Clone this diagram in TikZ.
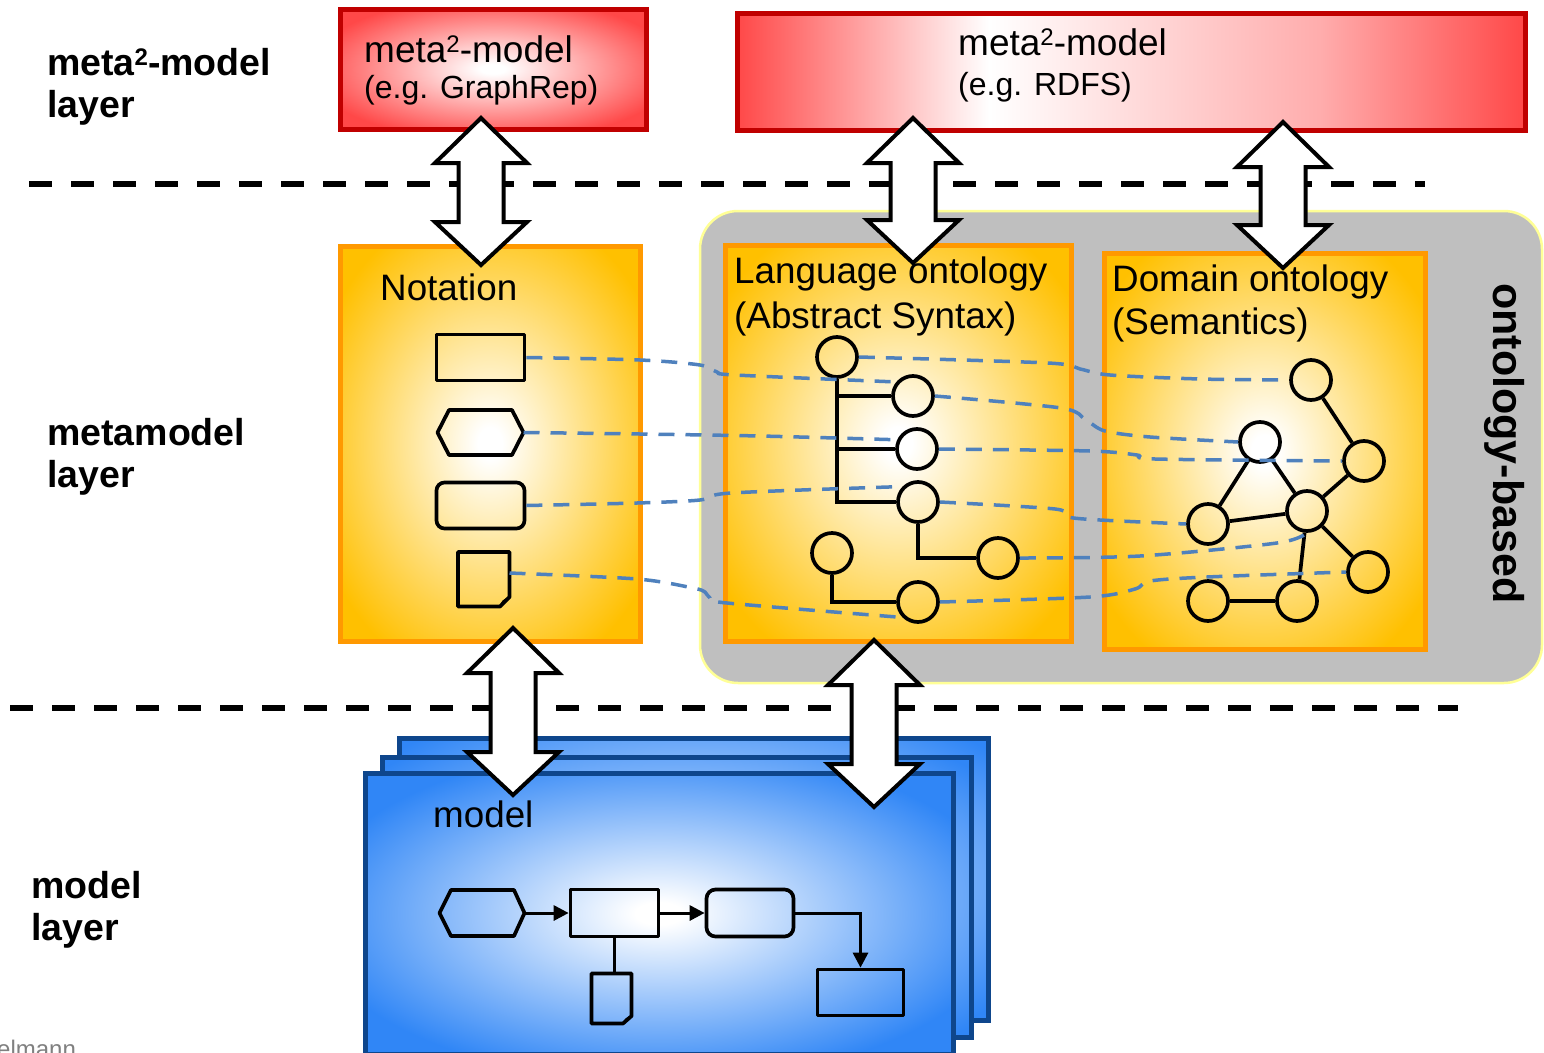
\documentclass[tikz,border=0pt]{standalone}
\usepackage{fontspec}
\setmainfont{Liberation Sans}
\usetikzlibrary{arrows.meta}
\definecolor{redEdge}{RGB}{255,72,72}
\colorlet{redMid}{redEdge!45}
\definecolor{redLine}{RGB}{192,0,0}
\definecolor{orEdge}{RGB}{255,192,0}
\definecolor{orLine}{RGB}{255,153,0}
\definecolor{blEdge}{RGB}{48,134,246}
\definecolor{blLine}{RGB}{14,70,140}
\definecolor{grFill}{RGB}{191,191,191}
\definecolor{grLine}{RGB}{255,255,150}
\definecolor{dashBlue}{RGB}{79,129,189}
\pgfdeclareradialshading{orglow}{\pgfpoint{0bp}{0bp}}{color(0bp)=(white); color(2bp)=(white); color(31bp)=(orEdge); color(50bp)=(orEdge)}
\pgfdeclareradialshading{redglow}{\pgfpoint{0bp}{0bp}}{color(0bp)=(white); color(2bp)=(white); color(30bp)=(redEdge); color(50bp)=(redEdge)}
\pgfdeclareradialshading{blglow}{\pgfpoint{0bp}{0bp}}{color(0bp)=(white); color(2bp)=(white); color(30bp)=(blEdge); color(50bp)=(blEdge)}
\pgfdeclareradialshading{blback}{\pgfpoint{0bp}{0bp}}{color(0bp)=(white); color(34bp)=(blEdge); color(50bp)=(blEdge)}
\pgfdeclarehorizontalshading{redband}{100bp}{color(0bp)=(redEdge); color(25bp)=(redEdge); color(41bp)=(white); color(62bp)=(redMid); color(75bp)=(redEdge); color(100bp)=(redEdge)}
\newcommand\fsz[1]{\fontsize{#1}{#1}\selectfont}
\newcommand\dblarrow[3]{%
  \draw[bigarrow] (#1,#2) -- ({#1+46},{#2+45}) -- ({#1+22.5},{#2+45}) -- ({#1+22.5},{#3-43}) -- ({#1+46},{#3-43}) -- (#1,#3) -- ({#1-46},{#3-43}) -- ({#1-22.5},{#3-43}) -- ({#1-22.5},{#2+45}) -- ({#1-46},{#2+45}) -- cycle;}
\begin{document}
\begin{tikzpicture}[x=1pt,y=-1pt,
  lay/.style={anchor=base west, inner sep=0pt, font=\bfseries\fsz{37.5}},
  ttl/.style={anchor=base west, inner sep=0pt, font=\fsz{36.8}},
  subttl/.style={anchor=base west, inner sep=0pt, font=\fsz{32}},
  layerline/.style={line width=6pt, dash pattern=on 23pt off 19pt},
  redbox/.style={draw=redLine, line width=5pt, inner sep=0pt, shade, shading=redglow},
  orbox/.style={draw=orLine, line width=5pt, inner sep=0pt, shade, shading=orglow},
  blbox/.style={draw=blLine, line width=5pt, inner sep=0pt, shade, shading=blglow},
  blbackbox/.style={draw=blLine, line width=5pt, inner sep=0pt, shade, shading=blback},
  shp/.style={draw=black, line width=3.7pt, line join=round},
  rnode/.style={shp, rectangle, inner sep=0pt},
  circ/.style={shp, circle, minimum size=40pt, inner sep=0pt},
  treeline/.style={line width=3.7pt},
  bdash/.style={draw=dashBlue, line width=3.5pt, dash pattern=on 16pt off 11pt},
  bigarrow/.style={draw=black, fill=white, line width=4pt, line join=miter},
  flow/.style={line width=3pt},
  flowtip/.style={-{Triangle[length=15pt,width=15pt]}}
]
\useasboundingbox (0,0) rectangle (1544,1052);
\fill[white] (0,0) rectangle (1544,1052);

% layer separators
\draw[layerline] (29,184) -- (1425,184);
\draw[layerline] (10,708) -- (1458,708);

% meta^2-model boxes
\node[redbox, minimum width=306pt, minimum height=120pt] (m2a) at (493,69) {};
\node[draw=redLine, line width=5pt, inner sep=0pt, shade, shading=redband, minimum width=788pt, minimum height=117pt] (m2b) at (1131,71.5) {};

% ontology group
\node[draw=grLine, line width=2.5pt, fill=grFill, rounded corners=38pt, minimum width=842pt, minimum height=472pt, inner sep=0pt] (ontgroup) at (1121,447) {};

% metamodel boxes
\node[orbox, minimum width=300pt, minimum height=395pt] (notation) at (490,443.5) {};
\node[orbox, minimum width=346pt, minimum height=396pt] (langont) at (898,443) {};
\node[orbox, minimum width=321pt, minimum height=396pt] (domont) at (1264.5,451) {};

% model boxes
\node[blbackbox, minimum width=589pt, minimum height=282pt] (mback) at (693.5,879) {};
\node[blbackbox, minimum width=589pt, minimum height=280pt] (mmid) at (676.5,897) {};
\node[blbox, minimum width=588pt, minimum height=281pt] (mfront) at (659,913.5) {};

% notation shapes
\node[rnode, minimum width=88pt, minimum height=46pt] (nrect) at (480.5,357.5) {};
\draw[shp] (437.5,432.5) -- (449,410) -- (512,410) -- (523.5,432.5) -- (512,455) -- (449,455) -- cycle;
\coordinate (nhexE) at (523.5,432.5);
\node[rnode, rounded corners=8pt, minimum width=88pt, minimum height=46pt] (nround) at (480.5,505.5) {};
\draw[shp] (458,552) -- (509.5,552) -- (509.5,597) -- (500,606.5) -- (458,606.5) -- cycle;
\fill (509.5,597) -- (500,606.5) .. controls (501,601) and (503,599) .. (509.5,597) -- cycle;
\coordinate (nnoteE) at (509.5,573);

% language ontology tree
\node[circ] (c1) at (837,357) {};
\node[circ] (c2) at (913,396) {};
\node[circ] (c3) at (917,449) {};
\node[circ] (c4) at (918,502) {};
\node[circ] (c5) at (998,558) {};
\node[circ] (c6) at (832,553) {};
\node[circ] (c7) at (918,602) {};
\draw[treeline] (c1.south) -- (c1.south |- c4) -- (c4.west);
\draw[treeline] (c1.south |- c2) -- (c2.west);
\draw[treeline] (c1.south |- c3) -- (c3.west);
\draw[treeline] (c4.south) -- (c4.south |- c5) -- (c5.west);
\draw[treeline] (c6.south) -- (c6.south |- c7) -- (c7.west);

% domain ontology graph
\node[circ] (d1) at (1311,380) {};
\node[circ] (d2) at (1260,442) {};
\node[circ] (d3) at (1364,461) {};
\node[circ] (d4) at (1208,524) {};
\node[circ] (d5) at (1307,511) {};
\node[circ] (d6) at (1368,572) {};
\node[circ] (d7) at (1208,601) {};
\node[circ] (d8) at (1297,601) {};
\draw[treeline] (d1) -- (d3);
\draw[treeline] (d2) -- (d4);
\draw[treeline] (d2) -- (d5);
\draw[treeline] (d4) -- (d5);
\draw[treeline] (d5) -- (d3);
\draw[treeline] (d5) -- (d6);
\draw[treeline] (d5) -- (d8);
\draw[treeline] (d7) -- (d8);

% model diagram
\draw[shp] (439.5,913) -- (451,890) -- (514,890) -- (524.5,913) -- (514,936) -- (451,936) -- cycle;
\coordinate (mhexE) at (524.5,913);
\node[rnode, minimum width=88pt, minimum height=47pt] (mrect) at (614.5,913) {};
\node[rnode, rounded corners=9pt, minimum width=87pt, minimum height=47pt] (mround) at (750,913) {};
\draw[shp] (591.5,973.5) -- (631.5,973.5) -- (631.5,1016) -- (623,1023.5) -- (591.5,1023.5) -- cycle;
\fill (631.5,1016) -- (623,1023.5) .. controls (624,1019) and (626,1017) .. (631.5,1016) -- cycle;
\coordinate (mnoteN) at (611.5,973.5);
\node[rnode, minimum width=86pt, minimum height=46pt] (mrect2) at (860.5,992.5) {};
\draw[flow, flowtip] (mhexE) -- (mrect.west);
\draw[flow, flowtip] (mrect.east) -- (mround.west);
\draw[flow, flowtip] (mround.east) -| (mrect2.north);
\draw[flow] (mrect.south) -- (mrect.south |- mnoteN);

% mapping lines notation -> language ontology
\draw[bdash] plot[smooth, tension=0.5] coordinates {(nrect.east) (640,360) (700,365) (717,372) (735,375) (c2.140)};
\draw[bdash] plot[smooth, tension=0.5] coordinates {(nhexE) (640,434) (760,436) (c3.155)};
\draw[bdash] plot[smooth, tension=0.5] coordinates {(nround.east) (637,503) (700,500) (731,493) (c4.135)};
\draw[bdash] plot[smooth, tension=0.5] coordinates {(nnoteE) (637,579) (693,588) (705,592) (710,598) (727,603) (c7.225)};

% mapping lines language -> domain ontology
\draw[bdash] plot[smooth, tension=0.5] coordinates {(c1.east) (1048,363) (1080,369) (1110,375) (1200,379) (d1.west)};
\draw[bdash] plot[smooth, tension=0.5] coordinates {(c2.east) (1061,408) (1086,420) (1105,431) (1150,437) (d2.west)};
\draw[bdash] plot[smooth, tension=0.5] coordinates {(c3.east) (1090,451) (1137,455) (1155,459) (d3.west)};
\draw[bdash] plot[smooth, tension=0.5] coordinates {(c4.east) (1055,509) (1068,517) (1100,520) (d4.west)};
\draw[bdash] plot[smooth, tension=0.5] coordinates {(c5.east) (1140,556) (1277,543) (d5.south)};
\draw[bdash] plot[smooth, tension=0.5] coordinates {(c7.east) (1090,597) (1135,589) (1150,581) (1207,577) (d6.west)};

% double arrows between layers
\dblarrow{481}{118}{265}
\dblarrow{913}{118}{263}
\dblarrow{1283}{122}{268}
\dblarrow{513}{628}{795}
\dblarrow{874}{640}{807}

% texts
\node[lay] (l1a) at (47,75) {meta\raisebox{10pt}{\fsz{24}2}-model};
\node[lay] (l1b) at (47,117) {layer};
\node[lay] (l2a) at (47,445) {metamodel};
\node[lay] (l2b) at (47,487) {layer};
\node[lay] (l3a) at (31,898) {model};
\node[lay] (l3b) at (31,940) {layer};

\node[ttl, font=\fsz{37}] (t1a) at (364,62) {meta\raisebox{10pt}{\fsz{24}2}-model};
\node[subttl] (t1b) at (364,98) {(e.g. GraphRep)};
\node[ttl, font=\fsz{37}] (t2a) at (958,55) {meta\raisebox{10pt}{\fsz{24}2}-model};
\node[subttl] (t2b) at (958,95) {(e.g. RDFS)};
\node[ttl] (tn) at (380,300) {Notation};
\node[ttl] (tl1) at (734,283) {Language ontology};
\node[ttl] (tl2) at (734,328) {(Abstract Syntax)};
\node[ttl] (td1) at (1112,291) {Domain ontology};
\node[ttl] (td2) at (1112,334) {(Semantics)};
\node[ttl] (tm) at (433,827) {model};
\node[anchor=base west, inner sep=0pt, font=\bfseries\fsz{43}, rotate=-90] (ob) at (1493,283) {ontology-based};
\node[anchor=base west, inner sep=0pt, font=\fsz{24}, text=black!50] (foot) at (-3,1057) {elmann};
\end{tikzpicture}
\end{document}
